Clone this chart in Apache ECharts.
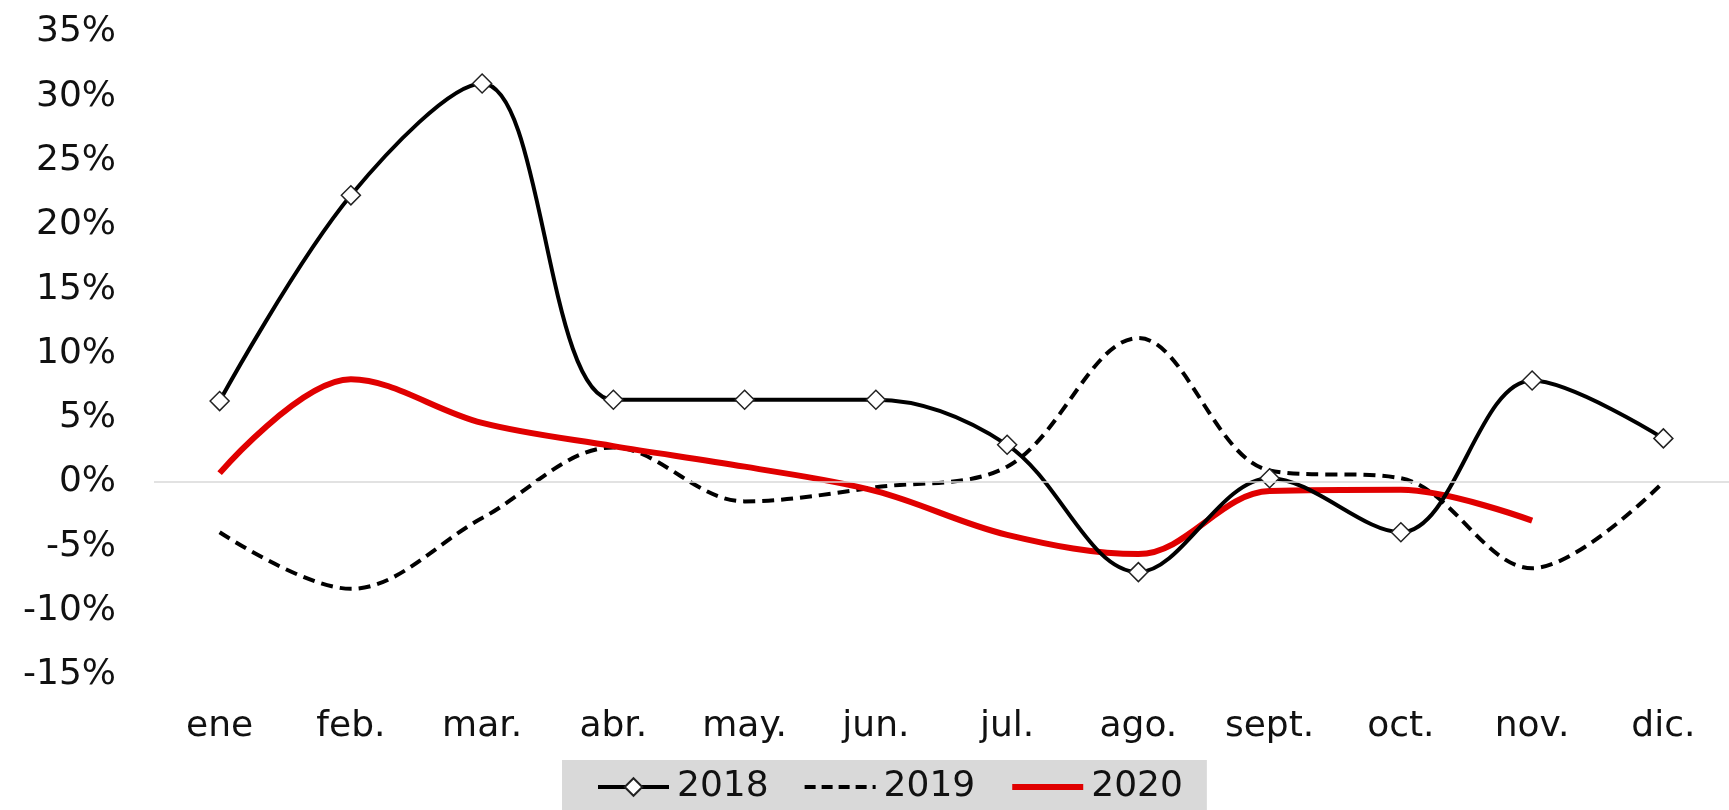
<!DOCTYPE html>
<html>
<head>
<meta charset="utf-8">
<script src="https://cdn.jsdelivr.net/npm/echarts@6/dist/echarts.min.js"></script>
<style>
html,body{margin:0;padding:0;background:#fff;}
#chart{width:1729px;height:810px;}
</style>
</head>
<body>
<div id="chart"></div>
<script>
const months = ['ene','feb.','mar.','abr.','may.','jun.','jul.','ago.','sept.','oct.','nov.','dic.'];
const s2018 = [6.3, 22.3, 31.0, 6.4, 6.4, 6.4, 2.9, -7.0, 0.3, -3.9, 7.9, 3.4];
const s2019 = [-3.9, -8.3, -2.8, 2.7, -1.5, -0.4, 1.2, 11.2, 0.9, 0.3, -6.7, 0.0];
const s2020 = [0.7, 8.0, 4.6, 2.8, 1.2, -0.7, -4.1, -5.6, -0.7, -0.6, -3.0, null];
const seriesNames = ['2018', '2019', '2020'];

const FONT = 'DejaVu Sans';
const SMOOTH = 0.35;
const chart = echarts.init(document.getElementById('chart'));
chart.setOption({
  animation: false,
  backgroundColor: '#ffffff',
  grid: { left: 154, right: -8, top: 32, bottom: 135, containLabel: false },
  legend: {
    data: [
      { name: seriesNames[0], lineStyle: { width: 4, color: '#000' } },
      { name: seriesNames[1], lineStyle: { width: 4, color: '#000', type: [11, 6] }, itemStyle: { opacity: 0 } },
      { name: seriesNames[2], lineStyle: { width: 6, color: '#e00000' }, itemStyle: { opacity: 0 } }
    ],
    left: 562, top: 760,
    backgroundColor: '#d9d9d9',
    padding: [9, 24, 12, 34],
    itemGap: 34,
    itemWidth: 71,
    itemHeight: 22,
    textStyle: { fontFamily: FONT, fontSize: 36, color: '#111', padding: [0, 0, 0, 3] }
  },
  xAxis: {
    type: 'category',
    data: months,
    boundaryGap: true,
    axisLine: { show: false, onZero: false },
    axisTick: { show: false },
    axisLabel: { fontFamily: FONT, fontSize: 36, color: '#111', margin: 34 }
  },
  yAxis: {
    type: 'value',
    min: -15, max: 35, interval: 5,
    axisLine: { show: false },
    axisTick: { show: false },
    splitLine: { show: false },
    axisLabel: { fontFamily: FONT, fontSize: 36, color: '#111', margin: 38, formatter: '{value}%' }
  },
  series: [
    {
      name: '2019', type: 'line', data: s2019, smooth: SMOOTH, z: 2,
      symbol: 'none',
      lineStyle: { color: '#000', width: 4, type: [12, 7] },
      itemStyle: { color: '#000' },
      markLine: {
        silent: true, symbol: 'none', label: { show: false },
        lineStyle: { color: '#d9d9d9', width: 1.5, type: 'solid' },
        data: [{ yAxis: 0 }]
      }
    },
    {
      name: '2020', type: 'line', data: s2020, smooth: SMOOTH, z: 3,
      symbol: 'none',
      lineStyle: { color: '#e00000', width: 6 },
      itemStyle: { color: '#e00000' }
    },
    {
      name: '2018', type: 'line', data: s2018, smooth: SMOOTH, z: 4,
      symbol: 'diamond', symbolSize: 19, showAllSymbol: true,
      lineStyle: { color: '#000', width: 4 },
      itemStyle: { color: '#ffffff', borderColor: '#222', borderWidth: 1.5 }
    }
  ]
});
</script>
</body>
</html>
